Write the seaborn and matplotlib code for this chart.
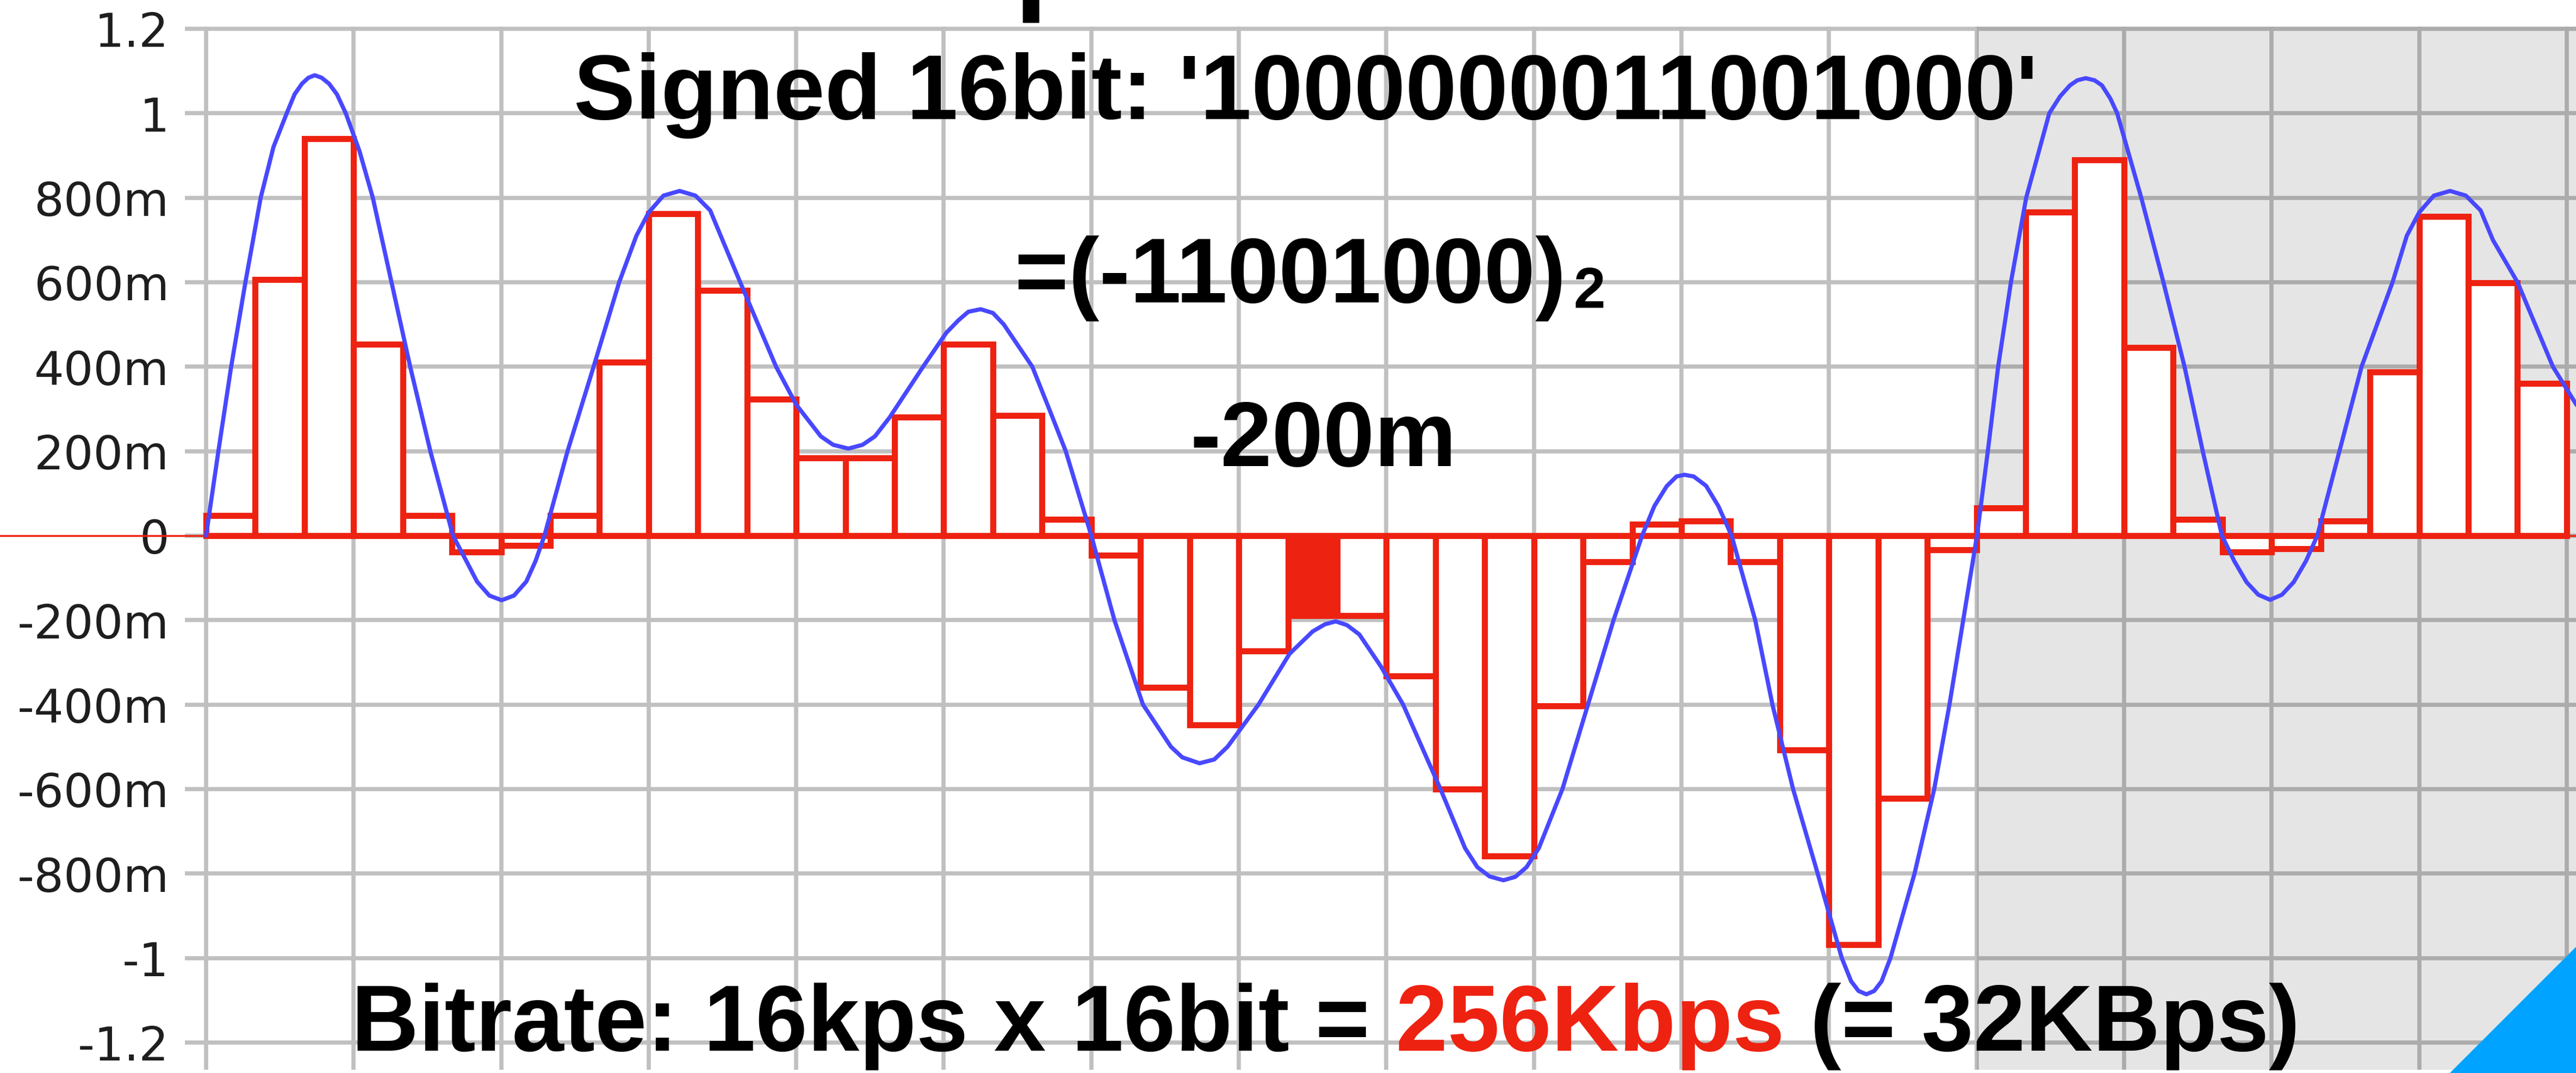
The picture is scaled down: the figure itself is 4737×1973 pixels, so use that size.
import matplotlib
matplotlib.use("Agg")
import matplotlib.pyplot as plt
import seaborn as sns
from matplotlib.patches import Polygon, Rectangle

# one value per sample bar (volts)
samples = [0.047, 0.606, 0.94, 0.453, 0.047, -0.039, -0.023, 0.047,
           0.41, 0.7625, 0.581, 0.323, 0.184, 0.184, 0.28, 0.453,
           0.284, 0.039, -0.047, -0.359, -0.448, -0.273, -0.19, -0.19,
           -0.333, -0.60, -0.758, -0.403, -0.0625, 0.027, 0.034, -0.0625,
           -0.508, -0.969, -0.622, -0.034, 0.066, 0.766, 0.89, 0.445,
           0.039, -0.039, -0.031, 0.034, 0.3875, 0.755, 0.598, 0.36]
highlight = 22  # the sample that is spelled out in binary

# analog trace (time in sample periods)
signal_t = [0.00, 0.25, 0.51, 0.80, 1.11, 1.37, 1.64, 1.80, 1.95, 2.08, 2.21, 2.35,
            2.50, 2.66, 2.84, 3.12, 3.39, 3.77, 4.15, 4.56, 5.02, 5.26, 5.51, 5.76,
            6.01, 6.26, 6.51, 6.70, 6.88, 7.35, 7.88, 8.40, 8.75, 9.00, 9.30,
            9.63, 9.95, 10.25, 10.50, 10.86, 11.59, 12.00, 12.50, 12.75, 13.06, 13.35, 13.60,
            13.90, 14.58, 15.05, 15.30, 15.50, 15.75, 16.00, 16.22, 16.80, 17.16, 17.48, 18.00,
            18.47, 19.05, 19.62, 19.85, 20.20, 20.50, 20.77, 21.40, 22.03, 22.50, 22.75, 22.97,
            23.20, 23.45, 23.89, 24.34, 25.10, 25.60, 25.85, 26.10, 26.38, 26.62, 26.85, 27.10,
            27.58, 28.10, 28.62, 29.20, 29.45, 29.70, 29.90, 30.06, 30.25, 30.50, 30.75, 31.02,
            31.50, 31.85, 32.27, 32.77, 33.26, 33.45, 33.60, 33.76, 33.92, 34.07, 34.25, 34.74,
            35.14, 35.45, 35.73, 36.01, 36.23, 36.44, 36.70, 37.01, 37.48, 37.70, 37.90, 38.05,
            38.22, 38.40, 38.55, 38.72, 38.86, 39.35, 39.80, 40.23, 40.60, 40.99, 41.24, 41.49,
            41.73, 41.97, 42.21, 42.45, 42.70, 42.93, 43.38, 43.83, 44.46, 44.75, 45.00, 45.30,
            45.63, 45.95, 46.25, 46.50, 47.00, 47.72, 48.25]
signal_v = [0.00, 0.20, 0.40, 0.60, 0.80, 0.92, 1.00, 1.045, 1.07, 1.084, 1.09, 1.084,
            1.07, 1.045, 1.00, 0.91, 0.80, 0.60, 0.40, 0.20, 0.00, -0.053, -0.109, -0.142,
            -0.153, -0.142, -0.109, -0.06, 0.00, 0.20, 0.40, 0.60, 0.71, 0.765, 0.805,
            0.816, 0.805, 0.77, 0.70, 0.60, 0.40, 0.31, 0.235, 0.215, 0.206, 0.215, 0.235,
            0.28, 0.40, 0.48, 0.51, 0.53, 0.536, 0.527, 0.50, 0.40, 0.295, 0.20, 0.00,
            -0.20, -0.40, -0.50, -0.525, -0.539, -0.53, -0.50, -0.40, -0.28, -0.227, -0.21, -0.203,
            -0.212, -0.234, -0.31, -0.40, -0.60, -0.74, -0.785, -0.807, -0.816, -0.808, -0.785, -0.74,
            -0.60, -0.40, -0.20, 0.00, 0.07, 0.117, 0.14, 0.144, 0.14, 0.118, 0.07, 0.00,
            -0.20, -0.40, -0.60, -0.80, -1.00, -1.055, -1.078, -1.086, -1.078, -1.055, -1.00, -0.80,
            -0.60, -0.40, -0.20, 0.00, 0.20, 0.40, 0.60, 0.80, 1.00, 1.04, 1.066, 1.078,
            1.083, 1.078, 1.066, 1.035, 1.00, 0.80, 0.60, 0.40, 0.20, 0.00, -0.06, -0.11,
            -0.14, -0.152, -0.14, -0.11, -0.06, 0.00, 0.20, 0.40, 0.60, 0.71, 0.765, 0.805,
            0.816, 0.805, 0.77, 0.70, 0.60, 0.40, 0.30]

yticks = [1.2, 1.0, 0.8, 0.6, 0.4, 0.2, 0.0, -0.2, -0.4, -0.6, -0.8, -1.0, -1.2]
ytick_labels = ["1.2", "1", "800m", "600m", "400m", "200m", "0",
                "-200m", "-400m", "-600m", "-800m", "-1", "-1.2"]
next_period_start = 36  # grey area: the waveform repeats from here

RED = "#ee2211"
BLUE = "#4848ff"

sns.set_style("white")
plt.rcParams["font.family"] = ["DejaVu Sans"]

W, H = 4737, 1974
fig = plt.figure(figsize=(W / 100, H / 100), dpi=100)
ax = fig.add_axes([340 / W, 6 / H, 1 - 340 / W, 1 - 6 / H - 50 / H])

idx = list(range(len(samples)))
sns.barplot(x=idx, y=samples, color="white", saturation=1, edgecolor=RED,
            linewidth=8, width=1.0, errorbar=None, ax=ax, zorder=2)
for bar in ax.containers[0]:
    bar.set_linewidth(8)
ax.containers[0][highlight].set_facecolor(RED)

# bars are centred on integers, so sample time t sits at t - 0.5
sig_x = [t - 0.5 for t in signal_t]
sns.lineplot(x=sig_x, y=signal_v, color=BLUE, linewidth=5.5, sort=False,
             estimator=None, ax=ax, zorder=3)

x_left, x_right = -0.931, 47.69
ax.axvspan(next_period_start - 0.5, x_right + 1, color="black", alpha=0.1,
           lw=0, zorder=0.8)
ax.axhline(0, xmin=-340 / (W - 340), xmax=1, clip_on=False, color=RED,
           lw=2.5, zorder=2.5)

ax.set_xlim(x_left, x_right)
ax.set_ylim(-1.2646, 1.205)
ax.set_xticks([k - 0.5 for k in range(0, 49, 3)])
ax.set_xticklabels([])
ax.set_yticks(yticks, ytick_labels)
ax.set_axisbelow(True)
ax.grid(True, color="#c0c0c0", linewidth=5.5)
ax.tick_params(axis="both", length=0)
ax.tick_params(axis="y", pad=21, labelsize=62, labelcolor="#1e1e1e")
ax.set_xlabel("")
ax.set_ylabel("")
for s in ax.spines.values():
    s.set_visible(False)

big = dict(family="Liberation Sans", weight="bold", fontsize=122, color="black")

fig.text(2401 / W, 1 - 219 / H, "Signed 16bit: '1000000011001000'",
         ha="center", va="baseline", **big)
t2 = fig.text(1866 / W, 1 - 556 / H, "=(-11001000)", ha="left",
              va="baseline", **big)
ax.annotate("2", xy=(1, 0), xycoords=t2, xytext=(14, 25),
            textcoords="offset pixels", ha="left", va="baseline",
            annotation_clip=False, family="Liberation Sans", weight="bold",
            fontsize=76, color="black")
fig.text(2433 / W, 1 - 857 / H, "-200m", ha="center", va="baseline", **big)

low = dict(big, fontsize=123.5)
p1 = fig.text(646 / W, 1 - 1932 / H, "Bitrate: 16kps x 16bit =", ha="left",
              va="baseline", **low)
p2 = ax.annotate(" 256Kbps", xy=(1, 0), xycoords=p1, ha="left", va="bottom",
                 annotation_clip=False, **dict(low, color=RED))
ax.annotate(" (= 32KBps)", xy=(1, 0), xycoords=p2, ha="left", va="bottom",
            annotation_clip=False, **low)

# clipped glyph at the very top and the corner badge
fig.add_artist(Rectangle((1881 / W, 1 - 42 / H), 29 / W, 42 / H,
                         transform=fig.transFigure, color="black"))
fig.add_artist(Polygon([(4506 / W, 0), (1, 231 / H), (1, 0)], closed=True,
                       transform=fig.transFigure, color="#00a3ff"))

fig.savefig("out.png", dpi=100)
